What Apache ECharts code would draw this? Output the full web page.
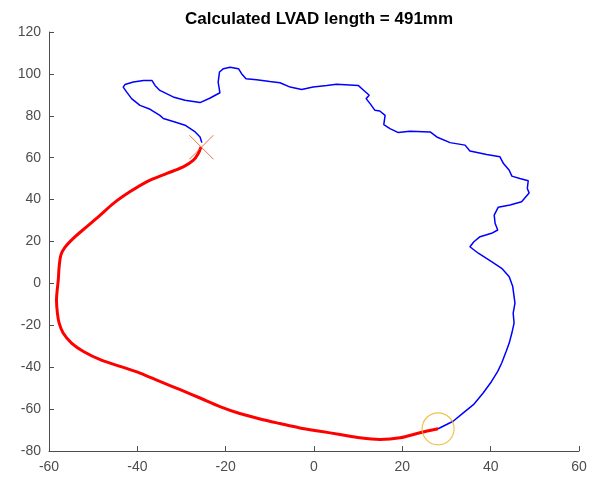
<!DOCTYPE html>
<html>
<head>
<meta charset="utf-8">
<script src="https://cdn.jsdelivr.net/npm/echarts@6/dist/echarts.min.js"></script>
<style>html,body{margin:0;padding:0;background:#fff}#c{width:592px;height:477px}</style>
</head>
<body>
<div id="c"></div>
<script>
var titleText = 'Calculated LVAD length = 491mm';

var blueX = [-25.4,-25.8,-26.9,-29.2,-31.5,-34.1,-34.9,-37.1,-39.4,-41.3,-42.4,-43.2,-42.8,-40.9,-38.6,-36.7,-36.0,-34.9,-31.9,-29.2,-25.8,-23.5,-21.3,-21.7,-21.4,-20.5,-19.0,-17.1,-16.4,-15.4,-13.0,-10.0,-7.7,-5.4,-2.8,-0.2,2.9,5.1,10.0,11.3,12.5,11.8,12.7,13.8,14.9,16.1,15.8,17.2,19.1,21.7,26.3,27.8,30.8,34.2,35.3,39.1,42.1,42.9,44.2,44.8,46.6,48.5,48.3,48.7,47.0,44.4,41.7,40.8,41.0,41.6,40.2,37.6,36.2,35.3,37.2,40.2,42.5,44.2,45.0,45.5,45.1,45.3,44.8,44.2,43.5,42.5,41.6,40.2,38.3,36.1,33.8,31.5,28.1];
var blueY = [67.2,69.9,72.3,75.5,77.0,78.7,80.2,83.1,85.0,88.2,91.3,93.7,94.9,96.1,96.8,96.9,94.5,92.1,89.0,87.4,86.3,88.5,91.0,96.1,100.9,102.5,103.2,102.5,100.1,97.7,97.2,96.4,95.8,93.7,92.6,93.7,94.5,95.1,94.5,92.1,89.8,88.2,85.8,82.6,82.3,80.2,75.8,73.9,72.0,72.6,72.3,69.9,67.2,66.0,63.2,61.5,60.4,57.2,54.0,51.2,50.1,49.0,45.3,43.2,39.0,37.4,36.3,32.6,28.7,25.5,23.9,22.3,19.9,17.5,14.4,10.4,7.2,3.2,-1.5,-9.4,-14.2,-19.0,-23.7,-28.5,-32.5,-38.0,-42.0,-46.8,-52.3,-57.9,-61.8,-65.8,-69.4];

var redX = [28.1,24.0,19.5,14.9,10.4,5.9,1.4,-3.2,-7.7,-12.2,-16.8,-21.3,-25.8,-30.3,-34.9,-39.4,-43.9,-48.4,-52.2,-54.9,-56.8,-57.7,-58.1,-58.3,-57.9,-57.7,-57.3,-56.4,-54.5,-51.5,-48.4,-45.4,-41.7,-37.9,-33.3,-29.6,-27.3,-26.2,-25.6];
var redY = [-69.4,-71.3,-73.7,-74.5,-73.7,-72.1,-70.6,-69.0,-66.9,-64.7,-62.1,-58.8,-54.7,-50.7,-46.8,-42.8,-39.6,-36.4,-32.5,-28.5,-23.7,-19.0,-14.2,-7.9,1.7,8.0,13.6,17.2,21.5,27.0,32.6,38.2,43.7,48.5,52.5,55.6,58.8,62.0,65.1];

var startPoint = [-25.5, 65];
var endPoint = [28.1, -69.4];

function pairs(xs, ys) { return xs.map(function (x, i) { return [x, ys[i]]; }); }

var axisColor = '#4d4d4d';
var fontFam = 'Liberation Sans, Arial, sans-serif';
var chart = echarts.init(document.getElementById('c'));
chart.setOption({
  animation: false,
  backgroundColor: '#ffffff',
  title: {
    text: titleText, left: 314, top: 6, textAlign: 'center',
    textStyle: { fontFamily: fontFam, fontSize: 17, fontWeight: 'bold', color: '#000' }
  },
  grid: { left: 49, right: 13, top: 32, bottom: 26, containLabel: false },
  xAxis: {
    type: 'value', min: -60, max: 60, interval: 20,
    axisLine: { onZero: false, lineStyle: { color: axisColor, width: 1 } },
    axisTick: { inside: true, length: 5, lineStyle: { color: axisColor } },
    splitLine: { show: false },
    axisLabel: { color: axisColor, fontSize: 14, margin: 9, fontFamily: fontFam }
  },
  yAxis: {
    type: 'value', min: -80, max: 120, interval: 20,
    axisLine: { show: true, onZero: false, lineStyle: { color: axisColor, width: 1 } },
    axisTick: { show: true, inside: true, length: 5, lineStyle: { color: axisColor } },
    splitLine: { show: false },
    axisLabel: { color: axisColor, fontSize: 14, margin: 8, fontFamily: fontFam }
  },
  series: [
    {
      type: 'line', data: pairs(blueX, blueY), showSymbol: false, symbol: 'none',
      lineStyle: { color: '#0000ff', width: 1.5 }, z: 2
    },
    {
      type: 'line', data: pairs(redX, redY), showSymbol: false, symbol: 'none', smooth: 0.3,
      lineStyle: { color: '#ff0000', width: 3 }, z: 3
    },
    {
      type: 'scatter', data: [startPoint], symbol: 'path://M0,0L10,10M10,0L0,10', symbolSize: 24,
      itemStyle: { color: 'rgba(0,0,0,0)', borderColor: '#D95319', borderWidth: 1 }, z: 4
    },
    {
      type: 'scatter', data: [endPoint], symbol: 'circle', symbolSize: 32,
      itemStyle: { color: 'rgba(0,0,0,0)', borderColor: '#EDB120', borderWidth: 1.2 }, z: 4
    }
  ]
});
</script>
</body>
</html>
